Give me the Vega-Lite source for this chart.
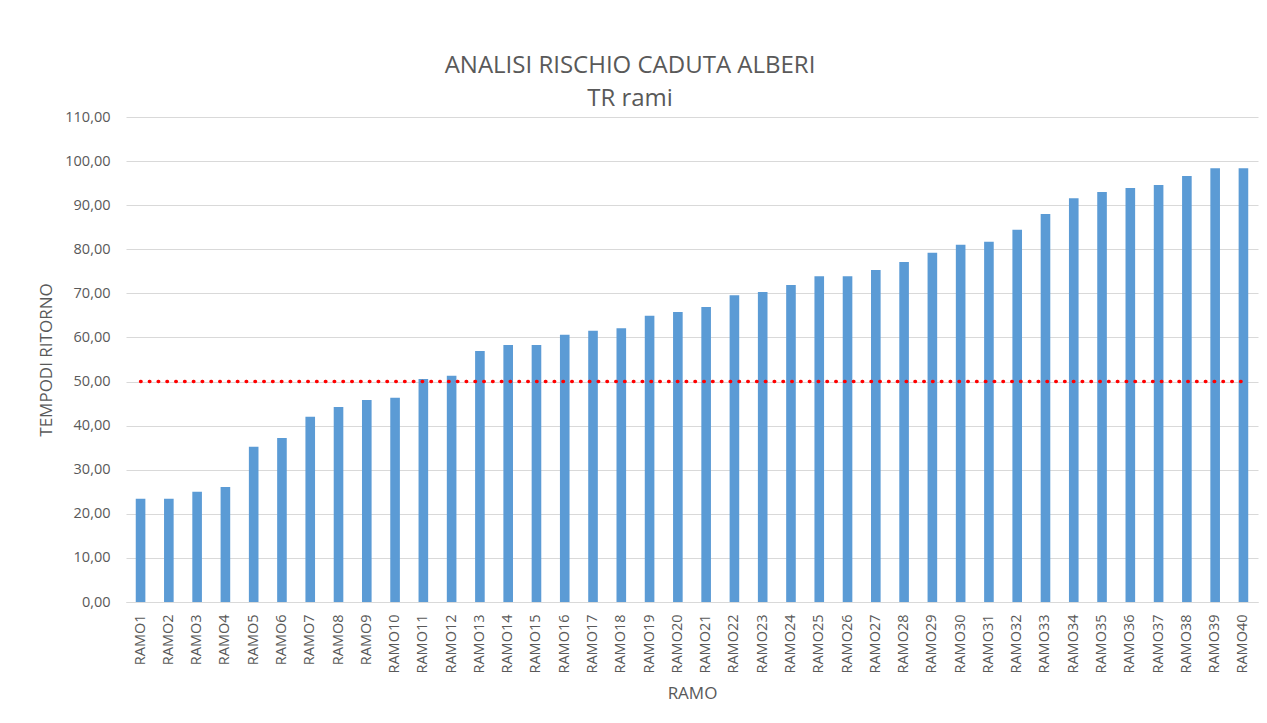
{
  "$schema": "https://vega.github.io/schema/vega-lite/v6.json",
  "width": 1132,
  "height": 485,
  "autosize": {"type": "none"},
  "padding": {"left": 126, "top": 117, "right": 9, "bottom": 121},
  "background": "white",
  "config": {"view": {"stroke": null}},
  "title": {
    "text": "ANALISI RISCHIO CADUTA ALBERI",
    "subtitle": "TR rami",
    "anchor": "middle",
    "dx": -62,
    "font": "Open Sans",
    "fontSize": 24,
    "fontWeight": "normal",
    "color": "#595959",
    "subtitleFont": "Open Sans",
    "subtitleFontSize": 24,
    "subtitleColor": "#595959",
    "subtitlePadding": 9,
    "offset": -2
  },
  "data": {
    "values": [
      {"ramo": "RAMO1", "tr": 23.4, "soglia": 50},
      {"ramo": "RAMO2", "tr": 23.4, "soglia": 50},
      {"ramo": "RAMO3", "tr": 25.0, "soglia": 50},
      {"ramo": "RAMO4", "tr": 26.1, "soglia": 50},
      {"ramo": "RAMO5", "tr": 35.2, "soglia": 50},
      {"ramo": "RAMO6", "tr": 37.2, "soglia": 50},
      {"ramo": "RAMO7", "tr": 42.0, "soglia": 50},
      {"ramo": "RAMO8", "tr": 44.2, "soglia": 50},
      {"ramo": "RAMO9", "tr": 45.8, "soglia": 50},
      {"ramo": "RAMO10", "tr": 46.3, "soglia": 50},
      {"ramo": "RAMO11", "tr": 50.6, "soglia": 50},
      {"ramo": "RAMO12", "tr": 51.3, "soglia": 50},
      {"ramo": "RAMO13", "tr": 56.9, "soglia": 50},
      {"ramo": "RAMO14", "tr": 58.3, "soglia": 50},
      {"ramo": "RAMO15", "tr": 58.3, "soglia": 50},
      {"ramo": "RAMO16", "tr": 60.6, "soglia": 50},
      {"ramo": "RAMO17", "tr": 61.5, "soglia": 50},
      {"ramo": "RAMO18", "tr": 62.1, "soglia": 50},
      {"ramo": "RAMO19", "tr": 64.9, "soglia": 50},
      {"ramo": "RAMO20", "tr": 65.8, "soglia": 50},
      {"ramo": "RAMO21", "tr": 66.9, "soglia": 50},
      {"ramo": "RAMO22", "tr": 69.6, "soglia": 50},
      {"ramo": "RAMO23", "tr": 70.3, "soglia": 50},
      {"ramo": "RAMO24", "tr": 71.9, "soglia": 50},
      {"ramo": "RAMO25", "tr": 73.9, "soglia": 50},
      {"ramo": "RAMO26", "tr": 73.9, "soglia": 50},
      {"ramo": "RAMO27", "tr": 75.3, "soglia": 50},
      {"ramo": "RAMO28", "tr": 77.1, "soglia": 50},
      {"ramo": "RAMO29", "tr": 79.2, "soglia": 50},
      {"ramo": "RAMO30", "tr": 81.0, "soglia": 50},
      {"ramo": "RAMO31", "tr": 81.7, "soglia": 50},
      {"ramo": "RAMO32", "tr": 84.4, "soglia": 50},
      {"ramo": "RAMO33", "tr": 88.0, "soglia": 50},
      {"ramo": "RAMO34", "tr": 91.6, "soglia": 50},
      {"ramo": "RAMO35", "tr": 93.0, "soglia": 50},
      {"ramo": "RAMO36", "tr": 93.9, "soglia": 50},
      {"ramo": "RAMO37", "tr": 94.6, "soglia": 50},
      {"ramo": "RAMO38", "tr": 96.6, "soglia": 50},
      {"ramo": "RAMO39", "tr": 98.4, "soglia": 50},
      {"ramo": "RAMO40", "tr": 98.4, "soglia": 50}
    ]
  },
  "encoding": {
    "x": {
      "field": "ramo",
      "type": "nominal",
      "sort": null,
      "scale": {"paddingInner": 0.66, "paddingOuter": 0.345},
      "axis": {
        "title": "RAMO",
        "titleFont": "Open Sans",
        "titleFontSize": 17,
        "titleFontWeight": "normal",
        "titleColor": "#595959",
        "titlePadding": 12,
        "labelAngle": -90,
        "labelFont": "Open Sans",
        "labelFontSize": 14.5,
        "labelColor": "#595959",
        "labelPadding": 12,
        "ticks": false,
        "domainColor": "#d9d9d9",
        "domainWidth": 1,
        "grid": false
      }
    }
  },
  "layer": [
    {
      "mark": {"type": "bar", "color": "#5B9BD5"},
      "encoding": {
        "y": {
          "field": "tr",
          "type": "quantitative",
          "scale": {"domain": [0, 110], "nice": false},
          "axis": {
            "title": "TEMPODI RITORNO",
            "titleFont": "Open Sans",
            "titleFontSize": 17,
            "titleFontWeight": "normal",
            "titleColor": "#595959",
            "titlePadding": 9,
            "values": [0, 10, 20, 30, 40, 50, 60, 70, 80, 90, 100, 110],
            "labelExpr": "replace(format(datum.value, '.2f'), '.', ',')",
            "labelFont": "Open Sans",
            "labelFontSize": 14.5,
            "labelColor": "#595959",
            "labelPadding": 16,
            "ticks": false,
            "domain": false,
            "grid": true,
            "gridColor": "#d9d9d9",
            "gridWidth": 1
          }
        }
      }
    },
    {
      "mark": {"type": "line", "color": "#ff0000", "strokeWidth": 3.5, "strokeDash": [0.5, 8.3], "strokeCap": "round"},
      "encoding": {
        "y": {"field": "soglia", "type": "quantitative"}
      }
    }
  ]
}
